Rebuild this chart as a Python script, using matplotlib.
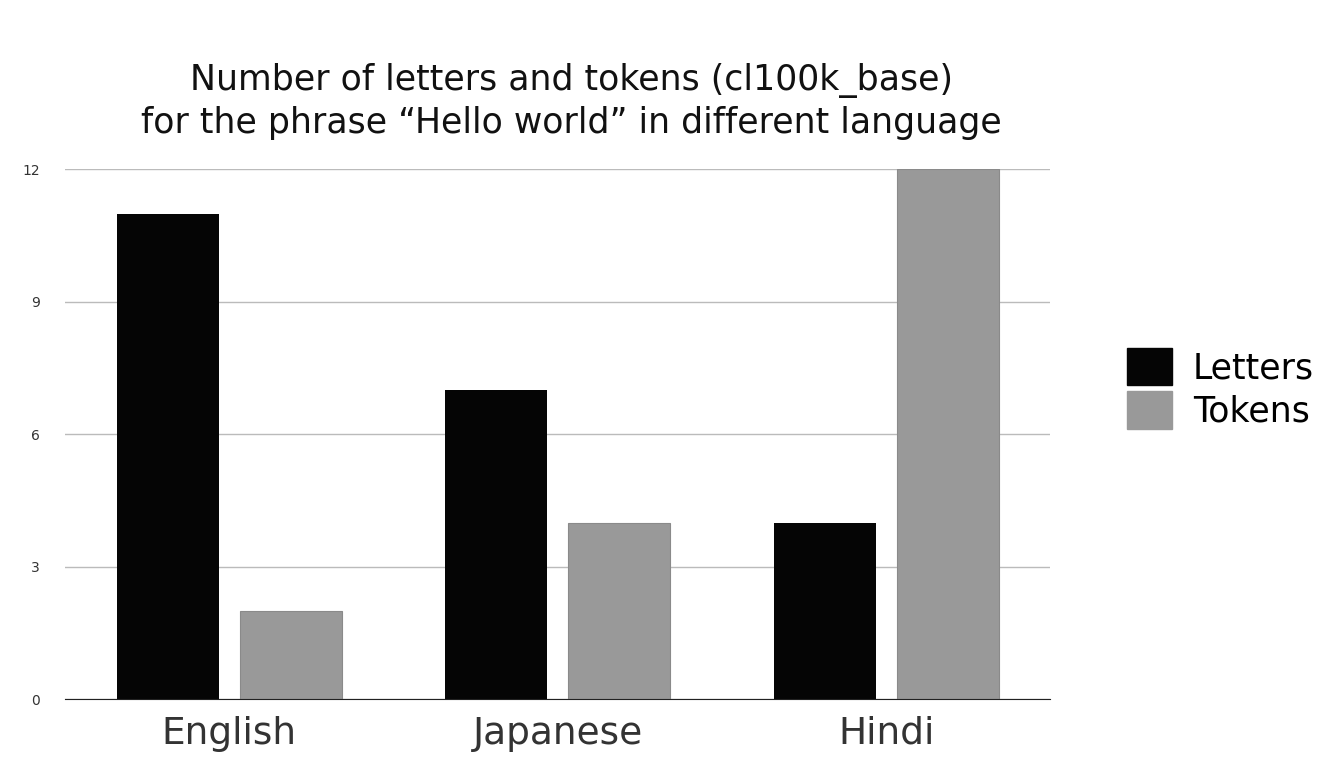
import numpy as np
import matplotlib.pyplot as plt
from matplotlib.patches import Patch

languages = ['English', 'Japanese', 'Hindi']
letters = [11, 7, 4]
tokens = [2, 4, 12]
yticks = [0, 3, 6, 9, 12]

fig = plt.figure(figsize=(13.28, 7.84), dpi=100)
ax = fig.add_axes([0.049, 0.108, 0.742, 0.676])

x = np.arange(len(languages))
w = 0.31
ax.bar(x - 0.187, letters, w, color='#050505', zorder=3)
ax.bar(x + 0.187, tokens, w, color='#999999', edgecolor='#8a8a8a', linewidth=0.8, zorder=3)

ax.set_xlim(-0.5, 2.5)
ax.set_ylim(0, 12)
ax.set_yticks(yticks)
ax.set_yticklabels([str(t) for t in yticks], fontsize=10, color='#333333')
ax.set_xticks(x)
ax.set_xticklabels(languages, fontsize=27, color='#333333')
ax.tick_params(axis='both', length=0)
ax.tick_params(axis='y', pad=18)
ax.tick_params(axis='x', pad=12)
ax.grid(axis='y', color='#bbbbbb', linewidth=1, zorder=0)
for s in ['top', 'right', 'left']:
    ax.spines[s].set_visible(False)
ax.spines['bottom'].set_color('#222222')
ax.spines['bottom'].set_zorder(4)

fig.text(0.43, 0.87, 'Number of letters and tokens (cl100k_base)\nfor the phrase \u201cHello world\u201d in different language',
         ha='center', va='center', fontsize=25, color='#111111', linespacing=1.3)

handles = [Patch(color='#050505'), Patch(color='#999999')]
fig.legend(handles, ['Letters', 'Tokens'], loc='center left', bbox_to_anchor=(0.825, 0.505),
           frameon=False, fontsize=25, handlelength=1.3, handleheight=1.3, handletextpad=0.6,
           labelspacing=0.15)

fig.savefig('out.png', dpi=100)
